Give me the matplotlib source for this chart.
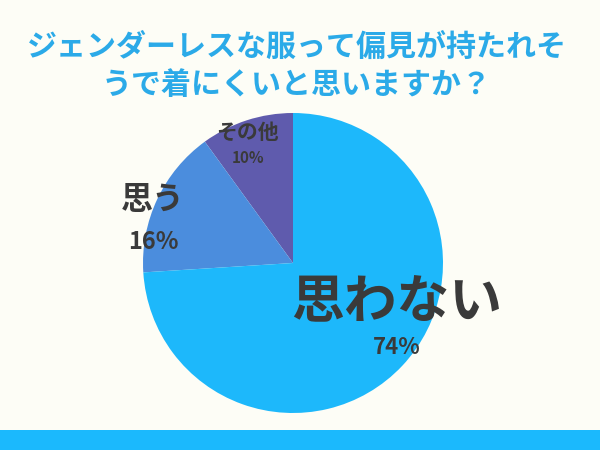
import matplotlib.pyplot as plt
from matplotlib.patches import Rectangle

plt.rcParams['font.family'] = ['Noto Sans CJK JP', 'DejaVu Sans']

# ---------------------------------------------------------------------------
# Data
# ---------------------------------------------------------------------------
title = "ジェンダーレスな服って偏見が持たれそ\nうで着にくいと思いますか？"
labels = ["その他", "思う", "思わない"]
shares = [10, 16, 74]
colors = ["#5F5BAD", "#4B8DDD", "#1DB8FB"]

BG = "#FDFDF6"
TITLE_COLOR = "#2BAAE8"
TEXT_COLOR = "#3A3A3A"

# ---------------------------------------------------------------------------
# Figure: one axes in pixel units (y up)
# ---------------------------------------------------------------------------
fig = plt.figure(figsize=(6, 4.5), dpi=100, facecolor=BG)
ax = fig.add_axes([0, 0, 1, 1])
ax.set_facecolor(BG)

ax.pie(shares, colors=colors, startangle=90, counterclock=True,
       center=(293, 187), radius=150, frame=True,
       wedgeprops=dict(linewidth=0))
ax.set_xlim(0, 600)
ax.set_ylim(0, 450)
ax.set_aspect("equal")
ax.axis("off")

# bottom strip
ax.add_patch(Rectangle((0, 0), 600, 20, color="#1BB9FD", lw=0))

fig.text(0.495, 1 - 66 / 450, title, ha="center", va="center",
         fontsize=21.6, fontweight="bold", color=TITLE_COLOR, linespacing=1.33)

# slice labels: (name x, name y, name size, pct y, pct size)
label_style = {
    "その他": (248, 132, 15, 158, 11),
    "思う": (153, 200, 23, 242, 17),
    "思わない": (397, 303, 38, 348, 16),
}
for name, pct in zip(labels, shares):
    x, y, fs, py, pfs = label_style[name]
    ax.text(x, 450 - y, name, ha="center", va="center", fontsize=fs,
            fontweight="bold", color=TEXT_COLOR)
    ax.text(x, 450 - py, f"{pct}%", ha="center", va="center", fontsize=pfs,
            fontweight="bold", color=TEXT_COLOR)

fig.savefig("out.png", dpi=100, facecolor=BG)
